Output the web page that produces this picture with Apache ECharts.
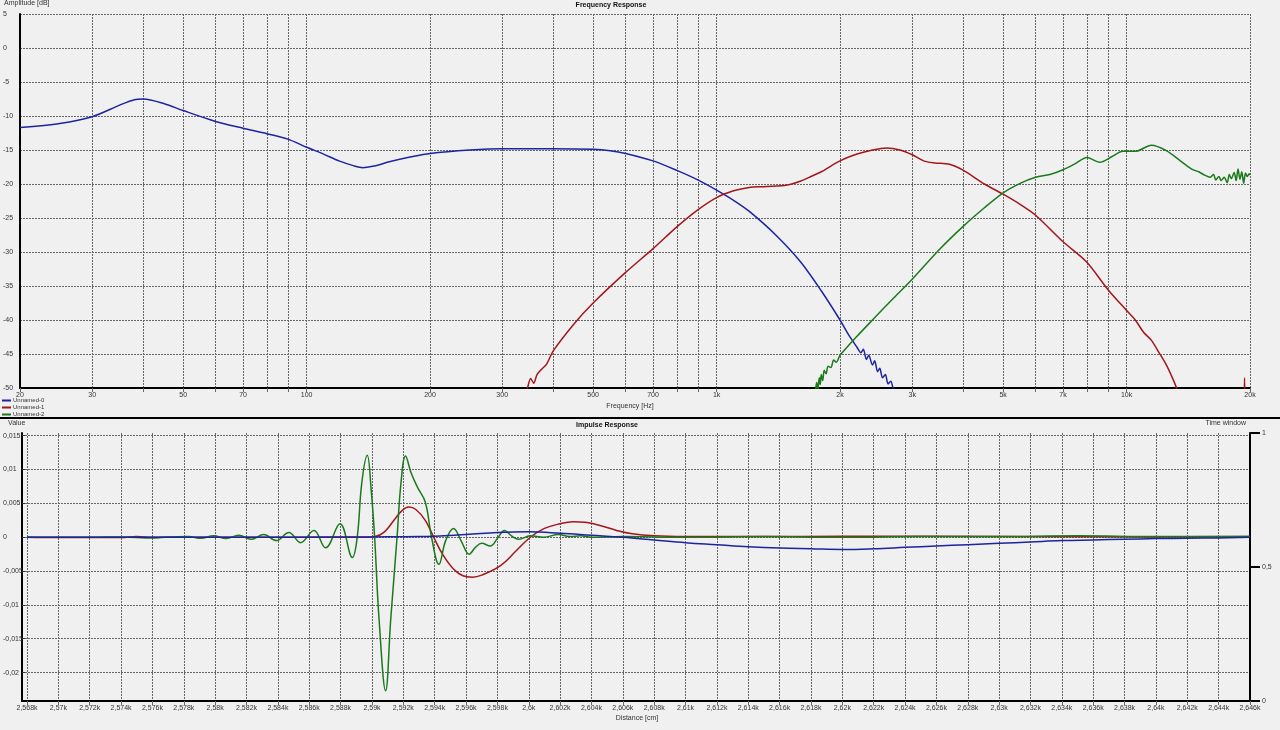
<!DOCTYPE html>
<html>
<head>
<meta charset="utf-8">
<script src="https://cdn.jsdelivr.net/npm/echarts@6/dist/echarts.min.js"></script>
<style>
html,body{margin:0;padding:0;background:#f0f0f0;}
#chart{width:1280px;height:730px;}
</style>
</head>
<body>
<div id="chart"></div>
<script>
// ---------- DATA ----------
const seriesNames = ['Unnamed-0', 'Unnamed-1', 'Unnamed-2'];
const seriesColors = ['#1c24a0', '#a3161a', '#1a7a1c'];

// Frequency response: [Hz, dB]
const fr0 = [[20,-11.7],[25,-11.1],[30,-10.1],[35,-8.4],[38,-7.6],[40,-7.5],[45,-8.2],[50,-9.2],[60,-10.8],[70,-11.8],[80,-12.6],[90,-13.4],[100,-14.6],[110,-15.6],[120,-16.6],[130,-17.3],[137,-17.6],[145,-17.4],[160,-16.7],[180,-16.0],[200,-15.5],[250,-15.0],[300,-14.8],[400,-14.8],[500,-14.9],[550,-15.1],[600,-15.5],[700,-16.6],[800,-18.0],[900,-19.4],[1000,-20.9],[1100,-22.4],[1200,-24.0],[1400,-27.6],[1600,-31.4],[1800,-35.7],[2000,-40.0],[2100,-42.2],[2200,-44.0],[2250,-44.8],[2280,-44.3],[2320,-45.8],[2350,-45.2],[2400,-46.6],[2430,-46.0],[2470,-47.6],[2500,-47.1],[2540,-48.5],[2580,-48.0],[2620,-49.4],[2660,-49.0],[2700,-50.3],[2750,-51.5]];
const fr1 = [[330,-53],[345,-50.2],[352,-48.6],[358,-49.3],[365,-48.0],[375,-47.2],[385,-46.5],[400,-44.5],[450,-40.5],[500,-37.5],[600,-33.0],[700,-29.5],[800,-26.3],[900,-23.8],[1000,-22.0],[1100,-21.0],[1200,-20.5],[1300,-20.4],[1400,-20.3],[1500,-20.1],[1600,-19.6],[1700,-18.9],[1800,-18.2],[2000,-16.6],[2200,-15.6],[2400,-15.0],[2600,-14.7],[2800,-15.0],[3000,-15.7],[3200,-16.6],[3400,-16.9],[3700,-17.1],[4000,-18.0],[4500,-20.0],[5000,-21.5],[5500,-23.0],[6000,-24.6],[7000,-28.5],[8000,-31.5],[9000,-35.5],[10000,-38.6],[10500,-40.0],[11000,-41.8],[11500,-43.0],[12000,-44.8],[12500,-46.6],[13000,-48.8],[13300,-50.3],[13600,-52],[19300,-55],[19400,-48.5],[19500,-55]];
const fr2 = [[1700,-53],[1740,-50.5],[1755,-49.2],[1765,-50.4],[1780,-48.5],[1790,-49.5],[1800,-48.0],[1815,-48.9],[1830,-47.4],[1850,-47.9],[1870,-46.8],[1900,-47.0],[1930,-45.9],[1960,-46.2],[2000,-45.2],[2200,-42.4],[2400,-40.0],[2700,-36.8],[3000,-34.0],[3500,-29.6],[4000,-26.2],[4500,-23.5],[5000,-21.3],[5500,-19.9],[6000,-19.0],[6500,-18.6],[7000,-17.9],[7500,-17.0],[8000,-16.1],[8600,-16.8],[9200,-16.0],[9800,-15.2],[10500,-15.2],[11500,-14.3],[12500,-15.1],[13600,-16.7],[14500,-17.9],[15000,-18.2],[15500,-18.7],[16000,-19.0],[16300,-18.6],[16500,-19.4],[16800,-18.9],[17000,-19.5],[17300,-19.0],[17600,-19.8],[17800,-18.6],[18000,-19.2],[18300,-18.3],[18500,-19.5],[18700,-17.8],[18900,-19.3],[19100,-18.2],[19300,-19.9],[19500,-18.4],[19700,-18.9],[19900,-18.5],[20000,-18.7]];

// Frequency axis marks (Hz)
const freqGrid = [20,30,40,50,60,70,80,90,100,200,300,400,500,600,700,800,900,1000,2000,3000,4000,5000,6000,7000,8000,9000,10000,20000];
const freqLabels = [20,30,50,70,100,200,300,500,700,1000,2000,3000,5000,7000,10000,20000];

// Impulse response: [cm, value]
const ir0 = [[2568,0],[2575,0],[2580,0],[2585,0],[2590,0.00005],[2593,0.0001],[2596,0.0004],[2598,0.0007],[2600,0.0008],[2602,0.0006],[2604,0.0003],[2606,0],[2608,-0.0004],[2610,-0.0008],[2612,-0.0011],[2614,-0.0014],[2616,-0.0016],[2618,-0.0017],[2620,-0.0018],[2622,-0.0017],[2624,-0.0015],[2626,-0.0013],[2628,-0.0011],[2630,-0.0009],[2632,-0.0007],[2634,-0.0005],[2636,-0.0004],[2638,-0.0003],[2640,-0.0002],[2642,-0.00015],[2644,-0.0001],[2646,0]];
const ir1 = [[2568,0],[2570,-0.00005],[2574,-0.00005],[2575,0.0001],[2576,0],[2580,0],[2585,0],[2589.5,0],[2590.2,0.0001],[2590.8,0.0008],[2591.4,0.0025],[2591.9,0.0039],[2592.35,0.00445],[2592.8,0.0041],[2593.4,0.0025],[2593.94,0],[2594.5,-0.0025],[2595.2,-0.0047],[2595.8,-0.0057],[2596.4,-0.0059],[2597,-0.0056],[2598.2,-0.0042],[2599.2,-0.002],[2600.1,0],[2601,0.0013],[2602,0.002],[2602.8,0.0023],[2603.6,0.0022],[2604.6,0.0017],[2605.6,0.001],[2606.6,0.0005],[2608,0.0002],[2610,0.0001],[2615,0.0001],[2620,0.00015],[2630,0.0001],[2640,0.00005],[2646,0.0001]];
const ir2 = [[2568,0],[2572,0],[2574,0.00005],[2576,-0.0001],[2577,0.00005],[2578.3,0.0001],[2579.1,-0.00015],[2579.9,0.0002],[2580.7,-0.0002],[2581.5,0.0003],[2582.3,-0.0003],[2583.1,0.0004],[2583.9,-0.0005],[2584.7,0.0007],[2585.45,-0.0008],[2586.3,0.001],[2587.04,-0.00157],[2587.96,0.002],[2588.75,-0.003],[2589.06,0],[2589.35,0.008],[2589.7,0.0121],[2589.95,0.007],[2590.17,0],[2590.45,-0.012],[2590.87,-0.0227],[2591.2,-0.012],[2591.6,0],[2591.85,0.008],[2592.14,0.012],[2592.5,0.0095],[2592.9,0.0074],[2593.4,0.0052],[2593.8,0],[2594.27,-0.004],[2594.7,-0.0005],[2595.2,0.0013],[2595.7,-0.0006],[2596.2,-0.0025],[2596.6,-0.0015],[2597.0,-0.0009],[2597.55,-0.0013],[2598.0,-0.0002],[2598.45,0.001],[2598.9,0.0002],[2599.36,-0.0003],[2600.1,0.0002],[2600.95,0],[2601.9,0.0004],[2602.6,0.0001],[2603.3,0.0002],[2604,0],[2606,0.0001],[2610,0],[2615,0.0001],[2620,0],[2625,0.0001],[2630,0.0001],[2635,0.0002],[2640,0.0001],[2646,0.0001]];

// Tick values
const irValueTicks = [-0.02, -0.015, -0.01, -0.005, 0, 0.005, 0.01, 0.015];
const distTicks = [2568,2570,2572,2574,2576,2578,2580,2582,2584,2586,2588,2590,2592,2594,2596,2598,2600,2602,2604,2606,2608,2610,2612,2614,2616,2618,2620,2622,2624,2626,2628,2630,2632,2634,2636,2638,2640,2642,2644,2646];

// ---------- CHART ----------
const FONT = 'Liberation Sans';
const gridLine = {show: true, lineStyle: {color: '#666', type: [2, 1], width: 1}};
const axisBlack = {show: true, onZero: false, lineStyle: {color: '#000', width: 2}};
const labelStyle = {color: '#333', fontSize: 7, fontFamily: FONT};
const comma = v => String(v).replace('.', ',');

const chart = echarts.init(document.getElementById('chart'), null, {renderer: 'canvas'});

const frSeries = [fr0, fr1, fr2].map((d, i) => ({
  name: seriesNames[i], type: 'line', xAxisIndex: 0, yAxisIndex: 0,
  data: d.map(p => [Math.log10(p[0]), p[1]]),
  showSymbol: false, smooth: 0.3, lineStyle: {width: 1.5, color: seriesColors[i]},
  itemStyle: {color: seriesColors[i]}, clip: true
}));
const irSeries = [ir0, ir1, ir2].map((d, i) => ({
  name: seriesNames[i], type: 'line', xAxisIndex: 1, yAxisIndex: 1,
  data: d, showSymbol: false, smooth: 0.4,
  lineStyle: {width: 1.5, color: seriesColors[i]},
  itemStyle: {color: seriesColors[i]}, clip: true, z: i === 0 ? 3 : 2
}));

const option = {
  backgroundColor: '#f0f0f0',
  animation: false,
  textStyle: {fontFamily: FONT},
  legend: {
    data: seriesNames, orient: 'vertical', left: 2, top: 397,
    itemWidth: 9, itemHeight: 2, itemGap: 0, icon: 'rect',
    textStyle: {fontSize: 6, color: '#333', fontFamily: FONT, lineHeight: 7, padding: [0, 0, 0, -3]},
    padding: 0
  },
  grid: [
    {left: 20, right: 30, top: 14, bottom: 342},
    {left: 21, right: 30, top: 433, bottom: 29}
  ],
  xAxis: [
    {
      type: 'value', gridIndex: 0,
      min: Math.log10(20), max: Math.log10(20000),
      axisLine: axisBlack,
      axisTick: {show: true, length: 4, lineStyle: {color: '#666'}, customValues: freqGrid.map(f => Math.log10(f))},
      axisLabel: Object.assign({}, labelStyle, {
        margin: 4,
        customValues: freqLabels.map(f => Math.log10(f)),
        formatter: v => { const f = Math.round(Math.pow(10, v)); return f >= 1000 ? (f / 1000) + 'k' : String(f); }
      }),
      splitLine: gridLine
    },
    {
      type: 'value', gridIndex: 1,
      min: 2567.68, max: 2646,
      axisLine: axisBlack,
      axisTick: {show: true, length: 4, lineStyle: {color: '#666'}, customValues: distTicks},
      axisLabel: Object.assign({}, labelStyle, {margin: 4, customValues: distTicks, formatter: v => comma(v / 1000) + 'k'}),
      splitLine: gridLine
    }
  ],
  yAxis: [
    {
      type: 'value', gridIndex: 0, min: -50, max: 5, interval: 5,
      axisLine: axisBlack, axisTick: {show: false},
      axisLabel: Object.assign({}, labelStyle, {align: 'left', margin: 17}),
      splitLine: gridLine
    },
    {
      type: 'value', gridIndex: 1, min: -0.0242, max: 0.0154,
      axisLine: axisBlack,
      axisTick: {show: true, inside: true, length: 3, lineStyle: {color: '#333'}, customValues: irValueTicks},
      axisLabel: Object.assign({}, labelStyle, {align: 'left', margin: 19, customValues: irValueTicks, formatter: v => comma(v)}),
      splitLine: gridLine
    },
    {
      type: 'value', gridIndex: 1, position: 'right', min: 0, max: 1, interval: 0.5,
      axisLine: axisBlack,
      axisTick: {show: true, length: 10, lineStyle: {color: '#000', width: 2}},
      axisLabel: Object.assign({}, labelStyle, {margin: 12, formatter: v => comma(v)}),
      splitLine: {show: false}
    }
  ],
  graphic: [
    {type: 'line', shape: {x1: 0, y1: 418, x2: 1280, y2: 418}, style: {stroke: '#000', lineWidth: 2}, silent: true},
    {type: 'text', x: 611, y: 2, style: {text: 'Frequency Response', font: 'bold 7px ' + FONT, fill: '#111', textAlign: 'center'}},
    {type: 'text', x: 4, y: 0, style: {text: 'Amplitude [dB]', font: '7px ' + FONT, fill: '#333', textAlign: 'left'}},
    {type: 'text', x: 630, y: 403, style: {text: 'Frequency [Hz]', font: '7px ' + FONT, fill: '#333', textAlign: 'center'}},
    {type: 'text', x: 607, y: 422, style: {text: 'Impulse Response', font: 'bold 7px ' + FONT, fill: '#111', textAlign: 'center'}},
    {type: 'text', x: 8, y: 420, style: {text: 'Value', font: '7px ' + FONT, fill: '#333', textAlign: 'left'}},
    {type: 'text', x: 1246, y: 420, style: {text: 'Time window', font: '7px ' + FONT, fill: '#333', textAlign: 'right'}},
    {type: 'text', x: 637, y: 715, style: {text: 'Distance [cm]', font: '7px ' + FONT, fill: '#333', textAlign: 'center'}}
  ],
  series: frSeries.concat(irSeries)
};
chart.setOption(option);
</script>
</body>
</html>
